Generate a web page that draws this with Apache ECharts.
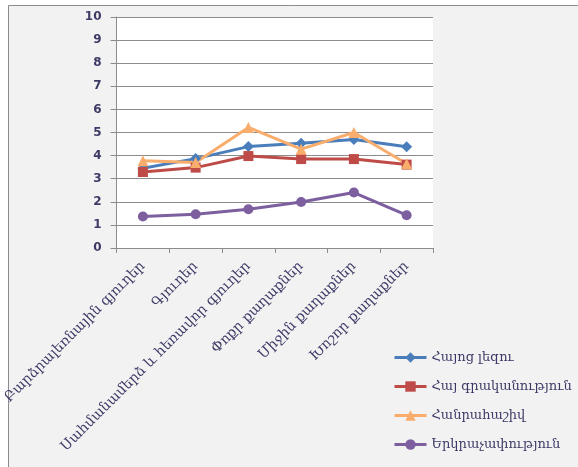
<!DOCTYPE html>
<html>
<head>
<meta charset="utf-8">
<script src="https://cdn.jsdelivr.net/npm/echarts@6/dist/echarts.min.js"></script>
<style>
  html, body { margin: 0; padding: 0; background: #fff; }
  #chart { width: 578px; height: 467px; }
</style>
</head>
<body>
<div id="chart"></div>
<script>
const categories = ['Բարձրալեռնային գյուղեր', 'Գյուղեր', 'Սահմանամերձ և հեռավոր գյուղեր', 'Փոքր քաղաքներ', 'Միջին քաղաքներ', 'Խոշոր քաղաքներ']
const seriesNames = ['Հայոց լեզու', 'Հայ գրականություն', 'Հանրահաշիվ', 'Երկրաչափություն']
const armenianLang = [3.45, 3.87, 4.39, 4.53, 4.7, 4.38]
const literature = [3.29, 3.48, 3.98, 3.85, 3.85, 3.61]
const algebra = [3.78, 3.7, 5.22, 4.28, 5.0, 3.65]
const geometry = [1.36, 1.46, 1.68, 1.99, 2.4, 1.42]
const yTicks = [0, 1, 2, 3, 4, 5, 6, 7, 8, 9, 10]

const font = 'DejaVu Serif'
const textColor = '#3d3a66'

const chart = echarts.init(document.getElementById('chart'))

function line(name, data, color, symbol, size) {
  return {
    name: name,
    type: 'line',
    data: data,
    symbol: symbol,
    symbolSize: size,
    lineStyle: { color: color, width: 3 },
    itemStyle: { color: color },
  }
}

chart.setOption({
  animation: false,
  graphic: [
    {
      type: 'rect',
      z: -10,
      shape: { x: 8.5, y: 5.5, width: 600, height: 500 },
      style: { fill: '#f2f2f2', stroke: '#8c8c8c', lineWidth: 1 },
    },
  ],
  grid: {
    left: 114,
    top: 17,
    right: 145,
    bottom: 219,
    show: true,
    backgroundColor: '#fff',
    borderWidth: 0,
  },
  legend: {
    orient: 'vertical',
    left: 388,
    top: 346,
    itemWidth: 32,
    itemHeight: 13,
    itemGap: 16,
    lineStyle: { width: 3 },
    textStyle: { fontFamily: font, fontSize: 13, color: textColor },
    data: seriesNames,
  },
  xAxis: {
    type: 'category',
    data: categories,
    boundaryGap: true,
    axisLine: { lineStyle: { color: '#8c8c8c' } },
    axisTick: { show: true, length: 5, lineStyle: { color: '#8c8c8c' } },
    axisLabel: {
      rotate: 45,
      interval: 0,
      margin: 16,
      fontFamily: font,
      fontSize: 14,
      color: textColor,
    },
  },
  yAxis: {
    type: 'value',
    min: yTicks[0],
    max: yTicks[yTicks.length - 1],
    interval: 1,
    axisLine: { show: true, lineStyle: { color: '#8c8c8c' } },
    axisTick: { show: true, length: 6, lineStyle: { color: '#8c8c8c' } },
    axisLabel: {
      margin: 15,
      fontFamily: 'DejaVu Sans',
      fontWeight: 'bold',
      fontSize: 12,
      color: textColor,
    },
    splitLine: { lineStyle: { color: '#8c8c8c', width: 1 } },
  },
  series: [
    line(seriesNames[0], armenianLang, '#4a7ebb', 'diamond', 11),
    line(seriesNames[1], literature, '#be4b48', 'rect', 10),
    line(seriesNames[2], algebra, '#f9ad6c', 'triangle', 11),
    line(seriesNames[3], geometry, '#7d5fa0', 'circle', 10),
  ],
})
</script>
</body>
</html>
